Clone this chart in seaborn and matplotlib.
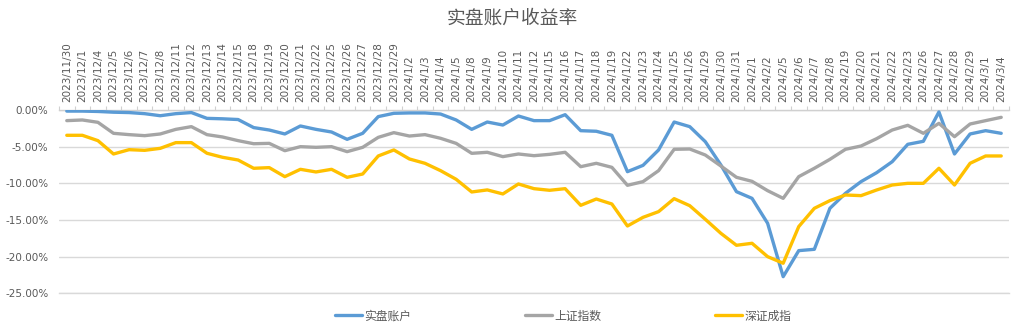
import matplotlib
matplotlib.use("Agg")
import matplotlib.pyplot as plt
import seaborn as sns
import pandas as pd
import numpy as np
from matplotlib.ticker import FuncFormatter, FixedLocator

# Trading dates
dates = [
    "2023/11/30", "2023/12/1", "2023/12/4", "2023/12/5", "2023/12/6", "2023/12/7",
    "2023/12/8", "2023/12/11", "2023/12/12", "2023/12/13", "2023/12/14", "2023/12/15",
    "2023/12/18", "2023/12/19", "2023/12/20", "2023/12/21", "2023/12/22", "2023/12/25",
    "2023/12/26", "2023/12/27", "2023/12/28", "2023/12/29", "2024/1/2", "2024/1/3",
    "2024/1/4", "2024/1/5", "2024/1/8", "2024/1/9", "2024/1/10", "2024/1/11",
    "2024/1/12", "2024/1/15", "2024/1/16", "2024/1/17", "2024/1/18", "2024/1/19",
    "2024/1/22", "2024/1/23", "2024/1/24", "2024/1/25", "2024/1/26", "2024/1/29",
    "2024/1/30", "2024/1/31", "2024/2/1", "2024/2/2", "2024/2/5", "2024/2/6",
    "2024/2/7", "2024/2/8", "2024/2/19", "2024/2/20", "2024/2/21", "2024/2/22",
    "2024/2/23", "2024/2/26", "2024/2/27", "2024/2/28", "2024/2/29", "2024/3/1",
    "2024/3/4",
]

# Cumulative returns, in percent
account = [
    -0.15, -0.15, -0.2, -0.3, -0.35, -0.5, -0.78, -0.5, -0.35, -1.14, -1.2, -1.3,
    -2.4, -2.73, -3.27, -2.18, -2.64, -3.0, -4.0, -3.18, -0.9, -0.45, -0.4, -0.4,
    -0.55, -1.36, -2.64, -1.64, -2.05, -0.82, -1.45, -1.45, -0.64, -2.82, -2.9, -3.45,
    -8.41, -7.55, -5.45, -1.64, -2.27, -4.32, -7.5, -11.14, -12.05, -15.45, -22.73, -19.18,
    -19.0, -13.41, -11.36, -9.77, -8.55, -7.05, -4.68, -4.27, -0.27, -6.0, -3.27, -2.82,
    -3.18,
]
shanghai = [
    -1.45, -1.36, -1.68, -3.18, -3.36, -3.5, -3.27, -2.64, -2.27, -3.36, -3.68, -4.18,
    -4.6, -4.55, -5.55, -5.0, -5.09, -5.0, -5.68, -5.09, -3.73, -3.09, -3.55, -3.36,
    -3.86, -4.55, -5.91, -5.77, -6.36, -6.0, -6.23, -6.05, -5.77, -7.73, -7.27, -7.82,
    -10.27, -9.77, -8.27, -5.36, -5.32, -6.14, -7.64, -9.18, -9.73, -11.0, -12.05, -9.09,
    -7.95, -6.73, -5.36, -4.91, -3.91, -2.73, -2.09, -3.18, -1.82, -3.64, -1.91, -1.45,
    -1.0,
]
shenzhen = [
    -3.45, -3.45, -4.18, -6.0, -5.41, -5.5, -5.23, -4.45, -4.45, -5.9, -6.45, -6.82,
    -7.95, -7.86, -9.09, -8.09, -8.45, -8.09, -9.18, -8.73, -6.27, -5.45, -6.68, -7.27,
    -8.27, -9.45, -11.18, -10.9, -11.45, -10.09, -10.73, -10.95, -10.73, -13.0, -12.14, -12.82,
    -15.82, -14.64, -13.86, -12.09, -13.05, -14.91, -16.82, -18.45, -18.18, -20.0, -20.9, -15.9,
    -13.41, -12.36, -11.59, -11.68, -10.91, -10.23, -10.0, -10.0, -7.95, -10.23, -7.27, -6.27,
    -6.27,
]

series_names = ["实盘账户", "上证指数", "深证成指"]
series_colors = ["#5B9BD5", "#A5A5A5", "#FFC000"]

sns.set_theme(style="white")
plt.rcParams["font.family"] = ["Noto Sans CJK SC", "DejaVu Sans"]
plt.rcParams["axes.unicode_minus"] = False

pos = np.arange(len(dates))
df = pd.DataFrame({
    "pos": np.tile(pos, 3),
    "value": account + shanghai + shenzhen,
    "series": np.repeat(series_names, len(dates)),
})

fig = plt.figure(figsize=(10.24, 3.36), dpi=100)
ax = fig.add_axes([59 / 1024, 1 - 293.3 / 336, 950 / 1024, 183.3 / 336])

sns.lineplot(
    data=df, x="pos", y="value", hue="series", hue_order=series_names,
    palette=series_colors, linewidth=2.4, ax=ax, legend=True,
    solid_joinstyle="round", solid_capstyle="round", zorder=3,
)

ax.set_xlim(-0.5, len(dates) - 0.5)
ax.set_ylim(-25, 0)
ax.set_xlabel("")
ax.set_ylabel("")

# Category axis along the top (0% line)
ax.xaxis.tick_top()
ax.set_xticks(pos)
ax.set_xticklabels(dates, rotation=90, fontsize=7.5, color="#595959",
                   family="DejaVu Sans")
ax.xaxis.set_minor_locator(FixedLocator(np.arange(-0.5, len(dates), 1.0)))
ax.tick_params(axis="x", which="major", length=0, pad=6, top=True, bottom=False)
ax.tick_params(axis="x", which="minor", length=3, width=0.8, color="#d0d0d0",
               direction="out", top=True, bottom=False)

ax.set_yticks(np.arange(-25, 0.1, 5))
ax.yaxis.set_major_formatter(FuncFormatter(lambda v, _: f"{v:.2f}%"))
ax.tick_params(axis="y", length=0, labelsize=7.5, labelcolor="#595959", pad=7.5)
for lbl in ax.get_yticklabels():
    lbl.set_family("DejaVu Sans")

ax.yaxis.grid(True, color="#d9d9d9", linewidth=1.0)
ax.xaxis.grid(False)
for side in ["left", "right"]:
    ax.spines[side].set_visible(False)
ax.spines["top"].set_color("#d0d0d0")
ax.spines["top"].set_linewidth(1.0)
ax.spines["bottom"].set_color("#d9d9d9")
ax.spines["bottom"].set_linewidth(1.0)

fig.suptitle("实盘账户收益率", x=0.5, y=1 - 18 / 336, va="center",
             fontsize=13.5, color="#595959")

handles, labels = ax.get_legend_handles_labels()
ax.get_legend().remove()
for h in handles:
    h.set_linewidth(2.4)
fig.legend(handles, labels, loc="center", bbox_to_anchor=(563 / 1024, 1 - 316 / 336),
           ncol=3, frameon=False, fontsize=8.5, handlelength=2.3, handletextpad=0.2,
           columnspacing=9.6, labelcolor="#595959")

fig.savefig("out.png", dpi=100, facecolor="white")
